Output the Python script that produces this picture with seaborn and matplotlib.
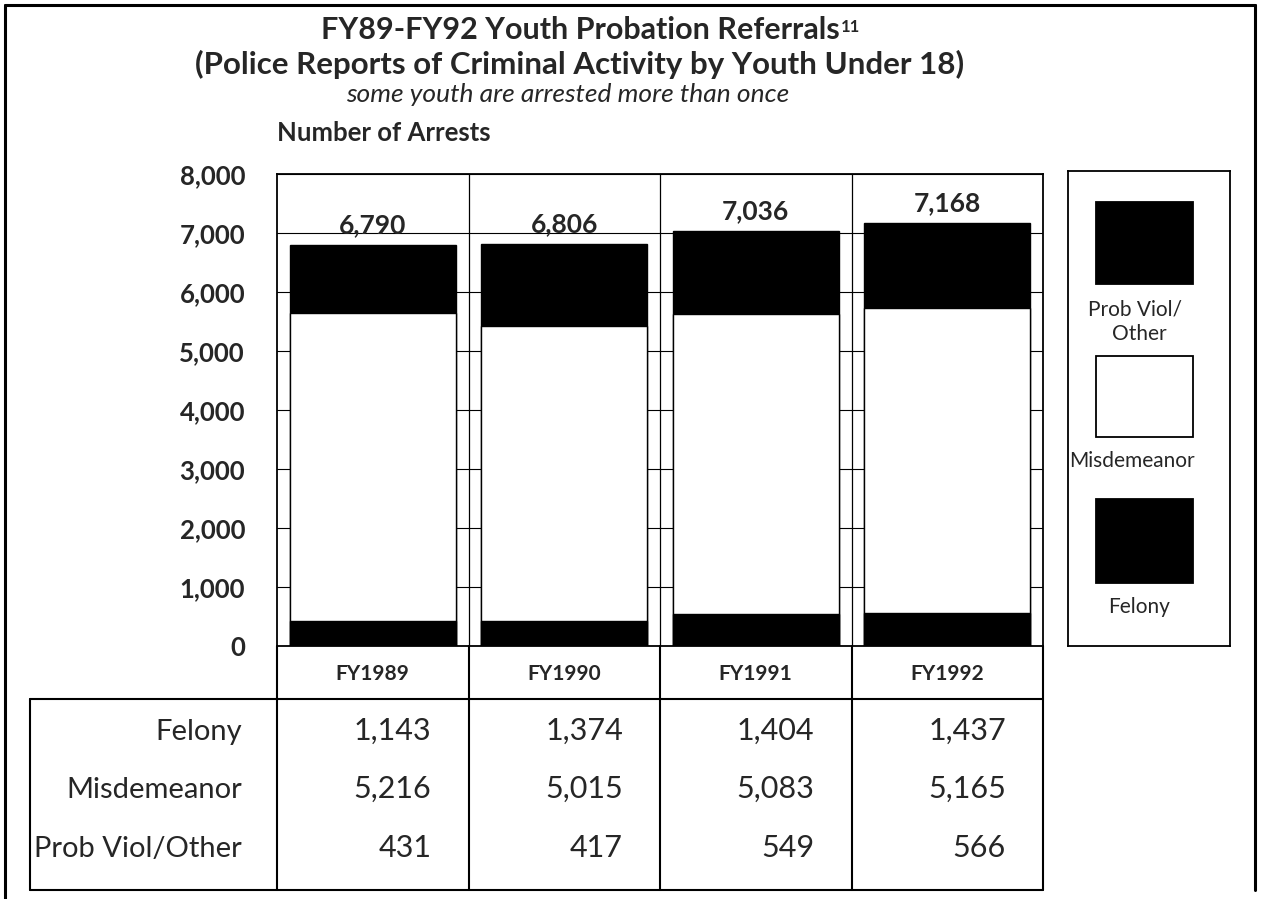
import pandas as pd
import matplotlib.pyplot as plt
import seaborn as sns
from matplotlib.patches import Rectangle
from matplotlib.lines import Line2D
from matplotlib.ticker import FuncFormatter

# ---------------------------------------------------------------
# data (read off the chart / table)
# ---------------------------------------------------------------
years = ["FY1989", "FY1990", "FY1991", "FY1992"]
felony = [1143, 1374, 1404, 1437]
misdemeanor = [5216, 5015, 5083, 5165]
prob_viol = [431, 417, 549, 566]
row_names = ["Felony", "Misdemeanor", "Prob Viol/Other"]

W, H = 1264, 899

sns.set_style("white")
plt.rcParams["font.family"] = ["Lato", "DejaVu Sans"]

df = pd.DataFrame({"year": years, "felony": felony,
                   "misd": misdemeanor, "prob": prob_viol})
df["lower"] = df["prob"] + df["misd"]
df["total"] = df["lower"] + df["felony"]

fig = plt.figure(figsize=(W / 100, H / 100), dpi=100)


def fx(px):
    return px / W


def fy(px):
    return 1 - px / H


# main chart axes (pixel box 277..1043 x 174..646)
ax = fig.add_axes([fx(277), fy(646), fx(1043 - 277), (646 - 174) / H])

# stacked bars: draw cumulative heights from the top down
bar_kw = dict(saturation=1, width=0.865, linewidth=1, edgecolor="black", ax=ax)
sns.barplot(data=df, x="year", y="total", color="black", zorder=2, **bar_kw)
sns.barplot(data=df, x="year", y="lower", color="white", zorder=3, **bar_kw)
sns.barplot(data=df, x="year", y="prob", color="black", zorder=4, **bar_kw)

ax.set_xlim(-0.5, 3.5)
ax.set_ylim(0, 8000)
ax.set_yticks(range(0, 8001, 1000))
ax.yaxis.set_major_formatter(FuncFormatter(lambda v, p: f"{int(v):,}"))
ax.yaxis.grid(True, color="black", linewidth=0.8)
ax.set_axisbelow(True)
for b in [0.5, 1.5, 2.5]:
    ax.axvline(b, color="black", linewidth=0.9, zorder=0)
ax.set_xlabel("")
ax.set_ylabel("")
ax.set_xticklabels([])
ax.tick_params(axis="x", length=0)
ax.tick_params(axis="y", length=0, pad=23, labelsize=18.5)
for lab in ax.get_yticklabels():
    lab.set_fontweight("bold")
for s in ax.spines.values():
    s.set_color("black")
    s.set_linewidth(1.3)

for i, t in enumerate(df["total"]):
    ax.annotate(f"{t:,}", (i, t), xytext=(0, 8.5), textcoords="offset points",
                ha="center", va="baseline", fontsize=19, fontweight="bold")

# ---------------------------------------------------------------
# data table under the bars (pixel box 277..1043 x 646..890)
# ---------------------------------------------------------------
tab = fig.add_axes([fx(277), fy(890), fx(1043 - 277), (890 - 646) / H], sharex=ax)
tab.set_ylim(0, 1)
tab.axis("off")
lk = dict(color="black", linewidth=1.5, clip_on=False)
hdr = (890 - 699) / 244
tab.add_line(Line2D([-1.79, 3.5], [hdr, hdr], **lk))
tab.add_line(Line2D([-1.79, 3.5], [0, 0], **lk))
tab.add_line(Line2D([-1.79, -1.79], [0, hdr], **lk))
for b in [-0.5, 0.5, 1.5, 2.5, 3.5]:
    tab.add_line(Line2D([b, b], [0, 1], **lk))

for i, y in enumerate(years):
    tab.text(i, (890 - 674) / 244, y, ha="center", va="center", fontsize=15,
             fontweight="bold")

row_base = [740, 798, 857]
row_vals = [felony, misdemeanor, prob_viol]
for name, rb, vals in zip(row_names, row_base, row_vals):
    yy = (890 - rb) / 244
    tab.text(-0.683, yy, name, ha="right", va="baseline", fontsize=21)
    for i, v in enumerate(vals):
        tab.text(i + 0.307, yy, f"{v:,}", ha="right", va="baseline", fontsize=22)

# ---------------------------------------------------------------
# legend panel (pixel box 1068..1230 x 171..646)
# ---------------------------------------------------------------
lg = fig.add_axes([fx(1068), fy(646), fx(1230 - 1068), (646 - 171) / H])
lg.set_xlim(0, 162)
lg.set_ylim(475, 0)
lg.set_xticks([])
lg.set_yticks([])
for s in lg.spines.values():
    s.set_color("black")
    s.set_linewidth(1.3)
swatches = [("black", 31, 113), ("white", 185, 266), ("black", 328, 412)]
for c, y0, y1 in swatches:
    lg.add_patch(Rectangle((28, y0), 97, y1 - y0, facecolor=c,
                           edgecolor="black", linewidth=1.3))
lg_font = 15
lg.text(67, 144, "Prob Viol/", ha="center", va="baseline", fontsize=lg_font)
lg.text(71, 169, "Other", ha="center", va="baseline", fontsize=lg_font)
lg.text(64, 296, "Misdemeanor", ha="center", va="baseline", fontsize=lg_font)
lg.text(71, 442, "Felony", ha="center", va="baseline", fontsize=lg_font)

# ---------------------------------------------------------------
# titles
# ---------------------------------------------------------------
t1 = fig.text(fx(580), fy(30), "FY89-FY92 Youth Probation Referrals",
              ha="center", va="center", fontsize=22, fontweight="bold")
fig.canvas.draw()
bb = t1.get_window_extent()
fig.text(bb.x1 / W + 0.001, (bb.y1 - 3) / H, "11", ha="left", va="top",
         fontsize=12, fontweight="bold")
fig.text(fx(580), fy(64), "(Police Reports of Criminal Activity by Youth Under 18)",
         ha="center", va="center", fontsize=22.5, fontweight="bold")
fig.text(fx(568), fy(95), "some youth are arrested more than once",
         ha="center", va="center", fontsize=19, style="italic")
fig.text(fx(277), fy(133), "Number of Arrests", ha="left", va="center",
         fontsize=18.5, fontweight="bold")

# outer frame
fk = dict(color="black", linewidth=2.2)
fig.add_artist(Line2D([fx(5), fx(5)], [0, fy(5)], **fk))
fig.add_artist(Line2D([fx(5), fx(1255)], [fy(5), fy(5)], **fk))
fig.add_artist(Line2D([fx(1255), fx(1255)], [fy(5), fy(890)], **fk))

fig.savefig("out.png", dpi=100)
